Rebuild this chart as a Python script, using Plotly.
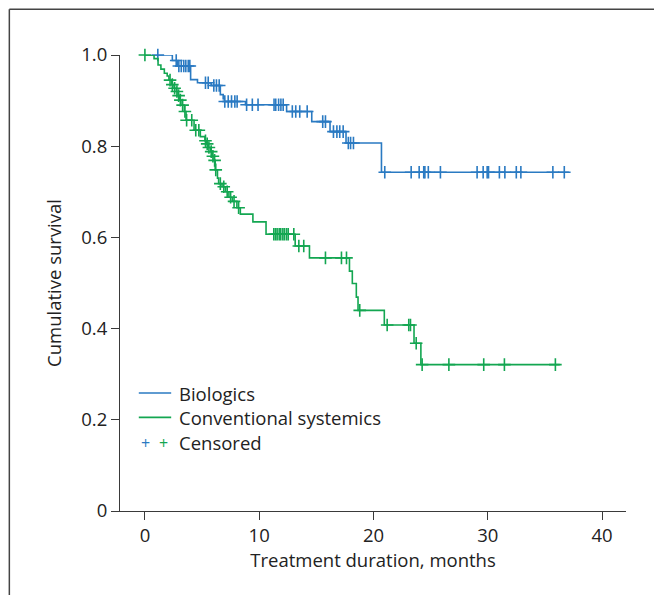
import plotly.graph_objects as go

# ---------------- data ----------------
bio_step_t = [2.4, 2.85, 4.0, 4.6, 5.8, 6.6, 6.85, 6.95, 8.8, 12.4, 14.6, 16.2, 17.6, 20.7]
bio_step_s = [0.988, 0.976, 0.946, 0.939, 0.933, 0.913, 0.904, 0.898, 0.891, 0.876, 0.854, 0.832, 0.807, 0.743]
bio_end = 37.1
bio_cens = [1.13, 2.74, 2.97, 3.18, 3.40, 3.58, 3.79, 3.93, 5.3, 5.54, 6.03, 6.26, 6.5,
            6.99, 7.29, 7.58, 7.87, 8.07, 8.9, 9.4, 9.9, 11.3, 11.45, 11.7, 11.9, 12.1,
            12.9, 13.2, 13.55, 14.2, 15.56, 15.8, 16.5, 16.8, 17.05, 17.35, 17.8, 18.0,
            18.25, 20.99, 23.3, 24.0, 24.4, 24.5, 24.8, 25.86, 29.07, 29.6, 29.95, 30.07,
            31.02, 31.5, 32.5, 32.9, 35.7, 36.7]

con_step_t = [0.8, 1.15, 1.4, 1.7, 1.95, 2.1, 2.35, 2.55, 2.75, 2.9, 3.05, 3.25, 3.45, 3.6,
              4.3, 4.85, 5.25, 5.4, 5.55, 5.75, 5.9, 6.05, 6.15, 6.35, 6.45, 6.75, 7.05,
              7.35, 7.65, 8.05, 8.35, 9.45, 10.6, 13.15, 14.4, 17.9, 18.15, 18.5, 18.65,
              20.95, 23.55, 24.15]
con_step_s = [0.992, 0.978, 0.969, 0.960, 0.954, 0.945, 0.935, 0.927, 0.920, 0.911, 0.901,
              0.890, 0.876, 0.857, 0.835, 0.821, 0.812, 0.805, 0.797, 0.788, 0.778, 0.769,
              0.748, 0.730, 0.718, 0.711, 0.700, 0.688, 0.679, 0.665, 0.651, 0.634, 0.607,
              0.581, 0.555, 0.526, 0.499, 0.469, 0.440, 0.408, 0.368, 0.321]
con_end = 36.3
con_cens = [0.0, 2.2, 2.4, 2.6, 2.8, 2.95, 3.1, 3.3, 3.5, 3.65, 4.1, 4.45, 4.72, 5.3, 5.45,
            5.6, 5.8, 5.95, 6.1, 6.2, 6.6, 6.9, 7.2, 7.5, 7.8, 8.2, 11.28, 11.43, 11.57,
            11.75, 11.89, 12.07, 12.21, 12.39, 12.54, 13.03, 13.47, 13.9, 15.8, 17.2,
            17.64, 18.8, 21.2, 23.09, 23.24, 23.74, 24.26, 26.6, 29.65, 31.46, 35.92]

x_ticks = [0, 10, 20, 30, 40]
y_ticks = [0, 0.2, 0.4, 0.6, 0.8, 1.0]
y_tick_text = ["0", "0.2", "0.4", "0.6", "0.8", "1.0"]
series_names = ["Biologics", "Conventional systemics"]
censor_label = "Censored"
x_title = "Treatment duration, months"
y_title = "Cumulative survival"

BLUE = "#2a7ac2"
GREEN = "#13a651"
FONT = "Open Sans"
FS = 18.5
TXT = "#222222"
AXIS = "#3a3a3a"


def step_xy(times, levels, end):
    xs = [0.0] + list(times) + [end]
    ys = [1.0] + list(levels) + [levels[-1]]
    return xs, ys


def level_at(t, times, levels):
    s = 1.0
    for ti, si in zip(times, levels):
        if ti <= t:
            s = si
    return s


fig = go.Figure()
for name, times, levels, end, cens, col in [
    (series_names[0], bio_step_t, bio_step_s, bio_end, bio_cens, BLUE),
    (series_names[1], con_step_t, con_step_s, con_end, con_cens, GREEN),
]:
    xs, ys = step_xy(times, levels, end)
    fig.add_trace(go.Scatter(x=xs, y=ys, mode="lines", line=dict(color=col, width=1.6, shape="hv"),
                             name=name, showlegend=False, cliponaxis=False, hoverinfo="skip"))
    fig.add_trace(go.Scatter(x=cens, y=[level_at(t, times, levels) for t in cens], mode="markers",
                             marker=dict(symbol="cross-thin", size=9, line=dict(color=col, width=1.6)),
                             name=censor_label, showlegend=False, cliponaxis=False, hoverinfo="skip"))

# page offset (body margin) and plot area, in page pixels
OFF = 8
W, H = 662 - 2 * OFF, 603 - 2 * OFF
L, R, T, B = 119.5 - OFF, 625.7 - OFF, 54.6 - OFF, 511.5 - OFF


def px(xp):
    return (xp - OFF - L) / (R - L)


def py(yp):
    return (B - (yp - OFF)) / (B - T)


shapes = [
    # outer frame (top and left visible)
    dict(type="line", xref="paper", yref="paper", x0=px(8.8), x1=px(720), y0=py(8.8), y1=py(8.8),
         line=dict(color="#444444", width=1.5)),
    dict(type="line", xref="paper", yref="paper", x0=px(8.8), x1=px(8.8), y0=py(8.8), y1=py(660),
         line=dict(color="#444444", width=1.5)),
    # legend lines
    dict(type="line", xref="paper", yref="paper", x0=px(138.3), x1=px(170.7), y0=py(393.3), y1=py(393.3),
         line=dict(color=BLUE, width=1.6)),
    dict(type="line", xref="paper", yref="paper", x0=px(138.3), x1=px(170.7), y0=py(417.7), y1=py(417.7),
         line=dict(color=GREEN, width=1.6)),
]

annotations = [
    dict(xref="paper", yref="paper", x=px(177), y=py(393.3), text=series_names[0], showarrow=False,
         xanchor="left", yanchor="middle", font=dict(family=FONT, size=FS, color=TXT)),
    dict(xref="paper", yref="paper", x=px(177), y=py(417.7), text=series_names[1], showarrow=False,
         xanchor="left", yanchor="middle", font=dict(family=FONT, size=FS, color=TXT)),
    dict(xref="paper", yref="paper", x=px(177), y=py(443.3), text=censor_label, showarrow=False,
         xanchor="left", yanchor="middle", font=dict(family=FONT, size=FS, color=TXT)),
    dict(xref="paper", yref="paper", x=px(145), y=py(443.3), text="+", showarrow=False,
         xanchor="center", yanchor="middle", font=dict(family=FONT, size=16, color=BLUE)),
    dict(xref="paper", yref="paper", x=px(162.7), y=py(443.3), text="+", showarrow=False,
         xanchor="center", yanchor="middle", font=dict(family=FONT, size=16, color=GREEN)),
]

fig.update_layout(
    width=W, height=H,
    margin=dict(l=L, r=W - R, t=T, b=H - B, pad=0),
    paper_bgcolor="white", plot_bgcolor="white",
    font=dict(family=FONT, size=FS, color=TXT),
    shapes=shapes, annotations=annotations, showlegend=False,
)
fig.update_xaxes(range=[-2.18, 42.1], tickvals=x_ticks, ticks="outside", ticklen=8, tickwidth=1,
                 tickcolor=AXIS, showline=True, linecolor=AXIS, linewidth=1, showgrid=False,
                 zeroline=False, title=dict(text=x_title, standoff=6, font=dict(size=FS)),
                 tickfont=dict(size=FS))
fig.update_yaxes(range=[0, 1.0], tickvals=y_ticks, ticktext=y_tick_text, ticks="outside", ticklen=8,
                 tickwidth=1, tickcolor=AXIS, showline=True, linecolor=AXIS, linewidth=1,
                 showgrid=False, zeroline=False,
                 title=dict(text=y_title, standoff=14, font=dict(size=FS)), tickfont=dict(size=FS))

fig.write_html("out.html")
